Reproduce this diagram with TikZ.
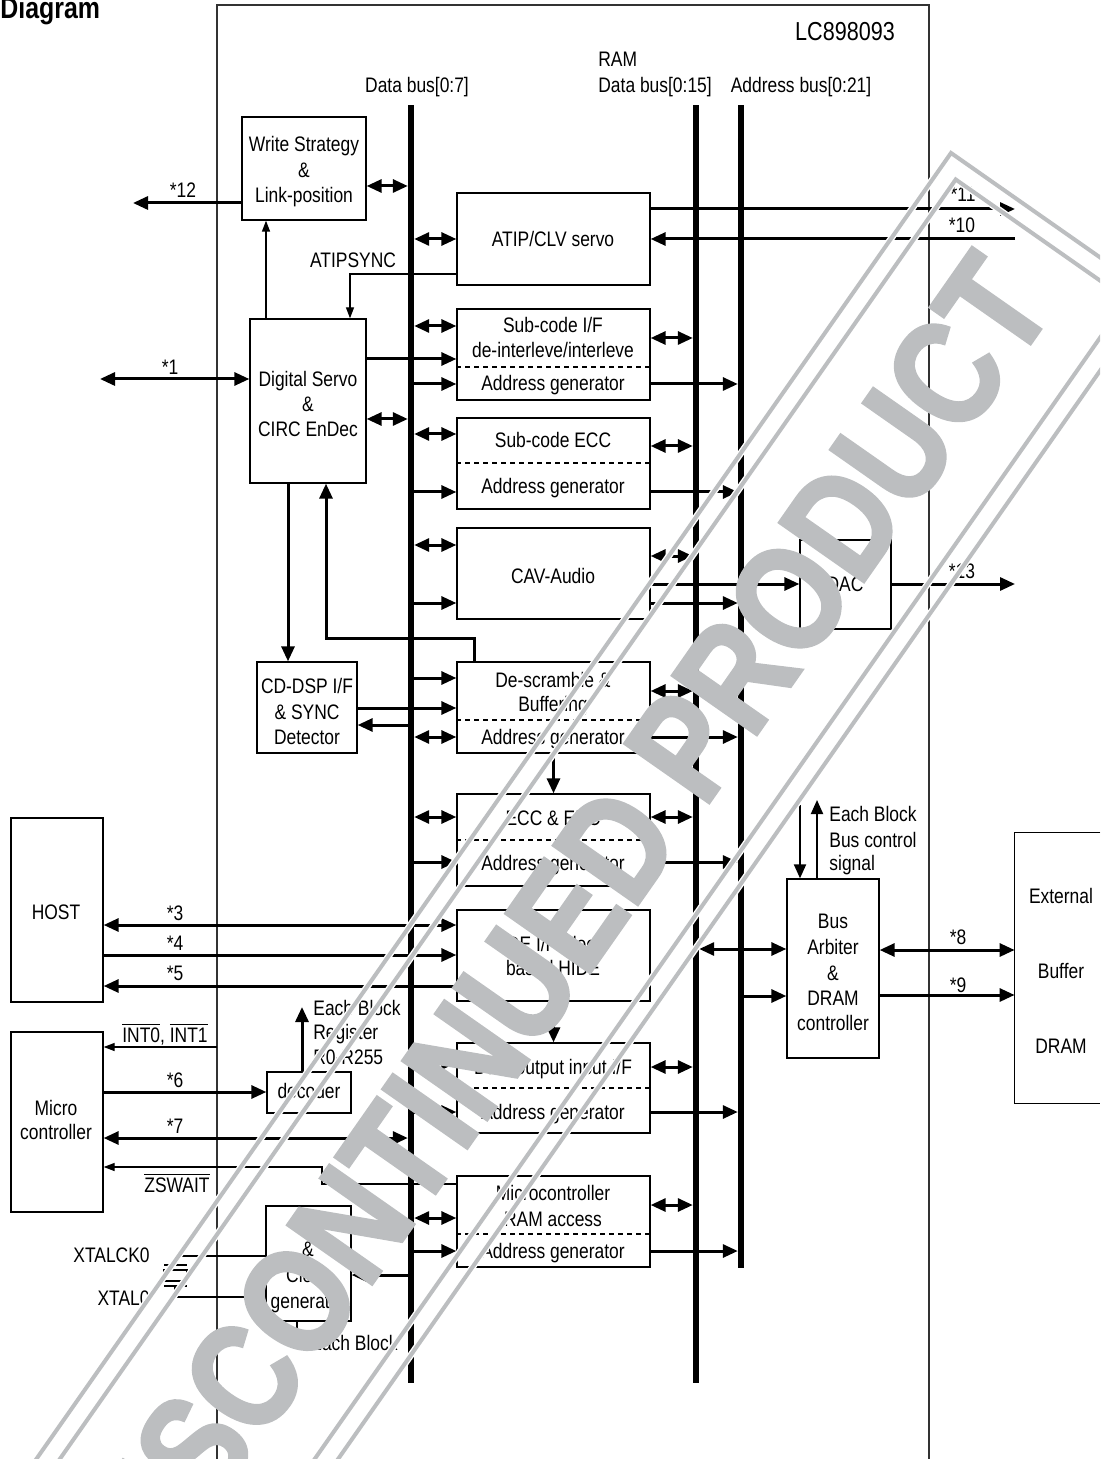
\documentclass[tikz,border=0pt]{standalone}
\usepackage{fontspec}
\setmainfont{Liberation Sans}[FakeStretch=0.83]
\newfontfamily\wmfont{Liberation Sans}[FakeStretch=0.83, FakeBold=2]
\usetikzlibrary{arrows.meta,fit}
\definecolor{wm}{RGB}{188,190,192}
\definecolor{frm}{RGB}{50,50,50}
\begin{document}
\begin{tikzpicture}[x=0.5pt,y=-0.5pt,
  font=\fontsize{10.5}{12.5}\selectfont,
  box/.style={draw, line width=0.65pt, inner sep=0pt},
  bus/.style={fill=black, draw=none, inner sep=0pt, minimum width=2.8pt},
  tx/.style={anchor=base, inner sep=0pt},
  txl/.style={anchor=base west, inner sep=0pt},
  txr/.style={anchor=base east, inner sep=0pt},
  thk/.style={line width=1.5pt},
  thn/.style={line width=0.65pt},
  ar/.style={thk, -{Triangle[length=7.5pt,width=6.5pt]}},
  mar/.style={line width=1pt, -{Triangle[length=7pt,width=6pt]}},
  bi/.style={thk, {Triangle[length=7.5pt,width=6.5pt]}-{Triangle[length=7.5pt,width=6.5pt]}},
  tar/.style={thn, -{Triangle[length=5.5pt,width=4pt]}},
  dv/.style={line width=0.6pt, dash pattern=on 2.5pt off 2pt},
]
\useasboundingbox (0,0) rectangle (1100,1459);

% title and chip frame
\node[anchor=base west, inner sep=0pt, font=\bfseries\fontsize{15}{18}\selectfont] (ttl) at (0,19) {Diagram};
\draw[line width=0.65pt, frm] (217,1459) -- (217,5) -- (929,5) -- (929,1459);
\node[tx, font=\fontsize{13}{15}\selectfont] (chip) at (845,41) {LC898093};

% buses
\node[bus, minimum height=639pt] (db) at (411,744) {};
\node[bus, minimum height=639pt] (rb) at (696,744) {};
\node[bus, minimum height=581.5pt] (ab) at (741,686.5) {};
\node[tx] (dbl) at (417,93) {Data bus[0:7]};
\node[txl] (raml) at (598,67) {RAM};
\node[txl] (rbl) at (598,93) {Data bus[0:15]};
\node[tx] (abl) at (801,93) {Address bus[0:21]};

% boxes
\node[box, fit={(242,117) (366,220)}] (ws) {};
\node[box, fit={(457,193) (650,285)}] (atip) {};
\node[box, fit={(250,319) (366,483)}] (ds) {};
\node[box, fit={(457,309) (650,400)}] (sub1) {};
\node[box, fit={(457,418) (650,509)}] (sub2) {};
\node[box, fit={(457,528) (650,619)}] (cav) {};
\node[box, fit={(800,540) (891,629)}] (dac) {};
\node[box, fit={(257,662) (357,753)}] (cdd) {};
\node[box, fit={(457,662) (650,753)}] (desc) {};
\node[box, fit={(457,794) (650,886)}] (ecc) {};
\node[box, fit={(457,910) (650,1001)}] (ide) {};
\node[box, fit={(457,1043) (650,1133)}] (dout) {};
\node[box, fit={(457,1176) (650,1267)}] (mc) {};
\node[box, fit={(787,879) (879,1058)}] (arb) {};
\node[inner sep=0pt, fit={(1015,833) (1100,1103)}] (ext) {};
\draw[line width=0.65pt] (ext.north east) -- (ext.north west) -- (ext.south west) -- (ext.south east);
\node[box, fit={(11,818) (103,1002)}] (host) {};
\node[box, fit={(11,1032) (103,1212)}] (micro) {};
\node[box, fit={(267,1072) (351,1113)}] (dec) {};
\node[box, fit={(266,1206) (351,1321)}] (pll) {};

% dashed dividers
\draw[dv] (sub1.west |- 0,367) -- (sub1.east |- 0,367);
\draw[dv] (sub2.west |- 0,463) -- (sub2.east |- 0,463);
\draw[dv] (desc.west |- 0,720) -- (desc.east |- 0,720);
\draw[dv] (ecc.west |- 0,840) -- (ecc.east |- 0,840);
\draw[dv] (dout.west |- 0,1088) -- (dout.east |- 0,1088);
\draw[dv] (mc.west |- 0,1234) -- (mc.east |- 0,1234);

% box texts
\node[tx] at (304,152) {Write Strategy};
\node[tx] at (304,178) {\&};
\node[tx] at (304,203) {Link-position};
\node[tx] at (553,247) {ATIP/CLV servo};
\node[tx] at (308,387) {Digital Servo};
\node[tx] at (308,412) {\&};
\node[tx] at (308,437) {CIRC EnDec};
\node[tx] at (553,333) {Sub-code I/F};
\node[tx] at (553,358) {de-interleve/interleve};
\node[tx] at (553,391) {Address generator};
\node[tx] at (553,448) {Sub-code ECC};
\node[tx] at (553,494) {Address generator};
\node[tx] at (553,583) {CAV-Audio};
\node[tx] at (845,591) {DAC};
\node[tx] at (307,693) {CD-DSP I/F};
\node[tx] at (307,719) {\& SYNC};
\node[tx] at (307,744) {Detector};
\node[tx] at (553,687) {De-scramble \&};
\node[tx] at (553,711) {Buffering};
\node[tx] at (553,744) {Address generator};
\node[tx] at (553,825) {ECC \& EDC};
\node[tx] at (553,870) {Address generator};
\node[tx] at (553,951) {IDE I/F Block};
\node[tx] at (553,975) {based HIDE};
\node[tx] at (553,1074) {Data output input I/F};
\node[tx] at (553,1119) {Address generator};
\node[tx] at (553,1200) {Microcontroller};
\node[tx] at (553,1226) {RAM access};
\node[tx] at (553,1258) {Address generator};
\node[tx] at (833,928) {Bus};
\node[tx] at (833,954) {Arbiter};
\node[tx] at (833,980) {\&};
\node[tx] at (833,1005) {DRAM};
\node[tx] at (833,1030) {controller};
\node[txl] at (829,821) {Each Block};
\node[txl] at (829,847) {Bus control};
\node[txl] at (829,870) {signal};
\node[tx] at (1061,903) {External};
\node[tx] at (1061,978) {Buffer};
\node[tx] at (1061,1053) {DRAM};
\node[tx] at (56,919) {HOST};
\node[tx] at (56,1115) {Micro};
\node[tx] at (56,1139) {controller};
\node[tx] at (309,1098) {decoder};
\node[txl] at (313,1015) {Each Block};
\node[txl] at (313,1039) {Register};
\node[txl] at (313,1064) {R0-R255};
\node[tx] at (308,1230) {PLL};
\node[tx] at (308,1256) {\&};
\node[tx] at (308,1282) {Clock};
\node[tx] at (308,1308) {generator};
\node[txr] at (150,1262) {XTALCK0};
\node[txr] at (150,1305) {XTAL0};
\node[txl] at (310,1350) {Each Block};

% signal labels
\node[tx] at (183,198) {*12};
\node[tx] at (963,202) {*11};
\node[tx] at (962,233) {*10};
\node[tx] at (170,375) {*1};
\node[tx] at (962,578) {*13};
\node[tx] at (958,944) {*8};
\node[tx] at (958,992) {*9};
\node[tx] at (175,920) {*3};
\node[tx] at (175,950) {*4};
\node[tx] at (175,980) {*5};
\node[tx] at (175,1087) {*6};
\node[tx] at (175,1133) {*7};
\node[tx] at (353,268) {ATIPSYNC};
\node[tx] at (165,1042) {$\overline{\mbox{INT0}}$, $\overline{\mbox{INT1}}$};
\node[tx] at (177,1192) {$\overline{\mbox{ZSWAIT}}$};

% free ends
\coordinate (c12) at (133,203);
\coordinate (c11) at (1015,209);
\coordinate (c10) at (1015,239);
\coordinate (c13) at (1015,584);
\coordinate (c1) at (100,379);
\coordinate (bc1) at (800,805);
\coordinate (bc2) at (817,800);
\coordinate (intc) at (217,1047);
\coordinate (regc) at (302,1007);
\coordinate (pllc) at (297,1347);
\coordinate (xt1) at (175,1256);
\coordinate (xt2) at (175,1297);

% connectors: write strategy / atip
\draw[ar] (ws.west |- c12) -- (c12);
\draw[bi] (ws.east |- 0,186) -- (db.west |- 0,186);
\draw[tar] (266,0 |- ds.north) -- (266,0 |- ws.south);
\draw[bi] (db.east |- 0,239) -- (atip.west |- 0,239);
\draw[ar] (atip.east |- c11) -- (c11);
\draw[ar] (c10) -- (atip.east |- c10);
\draw[tar] (atip.west |- 0,274) -- (350,274) -- (350,0 |- ds.north);

% digital servo
\draw[bi] (c1) -- (ds.west |- c1);
\draw[ar] (ds.east |- 0,359) -- (sub1.west |- 0,359);
\draw[bi] (ds.east |- 0,419) -- (db.west |- 0,419);
\draw[ar] (288,0 |- ds.south) -- (288,0 |- cdd.north);
\draw[ar] (474,0 |- desc.north) -- (474,638) -- (326,638) -- (326,0 |- ds.south);

% sub-code I/F
\draw[bi] (db.east |- 0,326) -- (sub1.west |- 0,326);
\draw[ar] (db.east |- 0,384) -- (sub1.west |- 0,384);
\draw[bi] (sub1.east |- 0,338) -- (rb.west |- 0,338);
\draw[ar] (sub1.east |- 0,384) -- (ab.west |- 0,384);
% sub-code ECC
\draw[bi] (db.east |- 0,434) -- (sub2.west |- 0,434);
\draw[ar] (db.east |- 0,492) -- (sub2.west |- 0,492);
\draw[bi] (sub2.east |- 0,446) -- (rb.west |- 0,446);
\draw[ar] (sub2.east |- 0,492) -- (ab.west |- 0,492);
% CAV audio
\draw[bi] (db.east |- 0,545) -- (cav.west |- 0,545);
\draw[ar] (db.east |- 0,603) -- (cav.west |- 0,603);
\draw[bi] (cav.east |- 0,556) -- (rb.west |- 0,556);
\draw[ar] (cav.east |- 0,584) -- (dac.west |- 0,584);
\draw[ar] (cav.east |- 0,603) -- (ab.west |- 0,603);
\draw[ar] (dac.east |- c13) -- (c13);
% CD-DSP and de-scramble
\draw[ar] (cdd.east |- 0,708) -- (desc.west |- 0,708);
\draw[ar] (db.west |- 0,725) -- (cdd.east |- 0,725);
\draw[ar] (db.east |- 0,678) -- (desc.west |- 0,678);
\draw[bi] (db.east |- 0,737) -- (desc.west |- 0,737);
\draw[bi] (desc.east |- 0,691) -- (rb.west |- 0,691);
\draw[ar] (desc.east |- 0,737) -- (ab.west |- 0,737);
\draw[ar] (desc.south) -- (ecc.north);
% ECC
\draw[bi] (db.east |- 0,817) -- (ecc.west |- 0,817);
\draw[ar] (db.east |- 0,862) -- (ecc.west |- 0,862);
\draw[bi] (ecc.east |- 0,817) -- (rb.west |- 0,817);
\draw[ar] (ecc.east |- 0,862) -- (ab.west |- 0,862);
% host / IDE
\draw[bi] (host.east |- 0,925) -- (ide.west |- 0,925);
\draw[ar] (host.east |- 0,955) -- (ide.west |- 0,955);
\draw[ar] (ide.west |- 0,986) -- (host.east |- 0,986);
\draw[ar] (ide.south) -- (dout.north);
% data output
\draw[bi] (db.east |- 0,1063) -- (dout.west |- 0,1063);
\draw[ar] (db.east |- 0,1112) -- (dout.west |- 0,1112);
\draw[bi] (dout.east |- 0,1067) -- (rb.west |- 0,1067);
\draw[ar] (dout.east |- 0,1112) -- (ab.west |- 0,1112);
% arbiter
\draw[bi] (rb.east |- 0,949) -- (arb.west |- 0,949);
\draw[ar] (ab.east |- 0,996) -- (arb.west |- 0,996);
\draw[mar] (bc1) -- (bc1 |- arb.north);
\draw[mar] (bc2 |- arb.north) -- (bc2);
\draw[bi] (arb.east |- 0,950) -- (ext.west |- 0,950);
\draw[ar] (arb.east |- 0,995) -- (ext.west |- 0,995);
% micro controller
\draw[tar] (intc) -- (intc -| micro.east);
\draw[ar] (micro.east |- 0,1092) -- (dec.west |- 0,1092);
\draw[ar] (302,0 |- dec.north) -- (regc);
\draw[bi] (micro.east |- 0,1138) -- (db.west |- 0,1138);
\draw[tar] (mc.west |- 0,1184) -- (322,1184) -- (322,1167) -- (micro.east |- 0,1167);
% microcontroller RAM access
\draw[bi] (db.east |- 0,1218) -- (mc.west |- 0,1218);
\draw[ar] (db.east |- 0,1251) -- (mc.west |- 0,1251);
\draw[bi] (mc.east |- 0,1205) -- (rb.west |- 0,1205);
\draw[ar] (mc.east |- 0,1251) -- (ab.west |- 0,1251);
% PLL
\draw[ar] (db.west |- 0,1275) -- (pll.east |- 0,1275);
\draw[thn] (xt1) -- (xt1 -| pll.west);
\draw[thn] (xt2) -- (xt2 -| pll.west);
\draw[tar] (297,0 |- pll.south) -- (pllc);
% crystal
\draw[thn] (xt1) -- (175,1265);
\draw[thn] (164,1265) -- (187,1265);
\draw[thn] (164,1270) rectangle (187,1281);
\draw[thn] (164,1286) -- (187,1286);
\draw[thn] (175,1286) -- (xt2);

% watermark
\begin{scope}
\clip (0,0) rectangle (1100,1459);
\node[text=wm, font=\wmfont\bfseries\fontsize{75}{75}\selectfont, rotate=55, inner sep=0pt] (wmt) at (557,930) {DISCONTINUED PRODUCT};
\foreach \c/\w in {white/3.4pt, wm/2pt} {
  \draw[\c, line width=\w, line join=miter] (-311,1955) -- (951,153) -- (1153.3,294.7) -- (-108.6,2097);
  \draw[\c, line width=\w, line join=miter] (-306,1981.5) -- (955.7,179.5) -- (1126.9,299.4) -- (-135,2101);
}
\end{scope}
\end{tikzpicture}
\end{document}
